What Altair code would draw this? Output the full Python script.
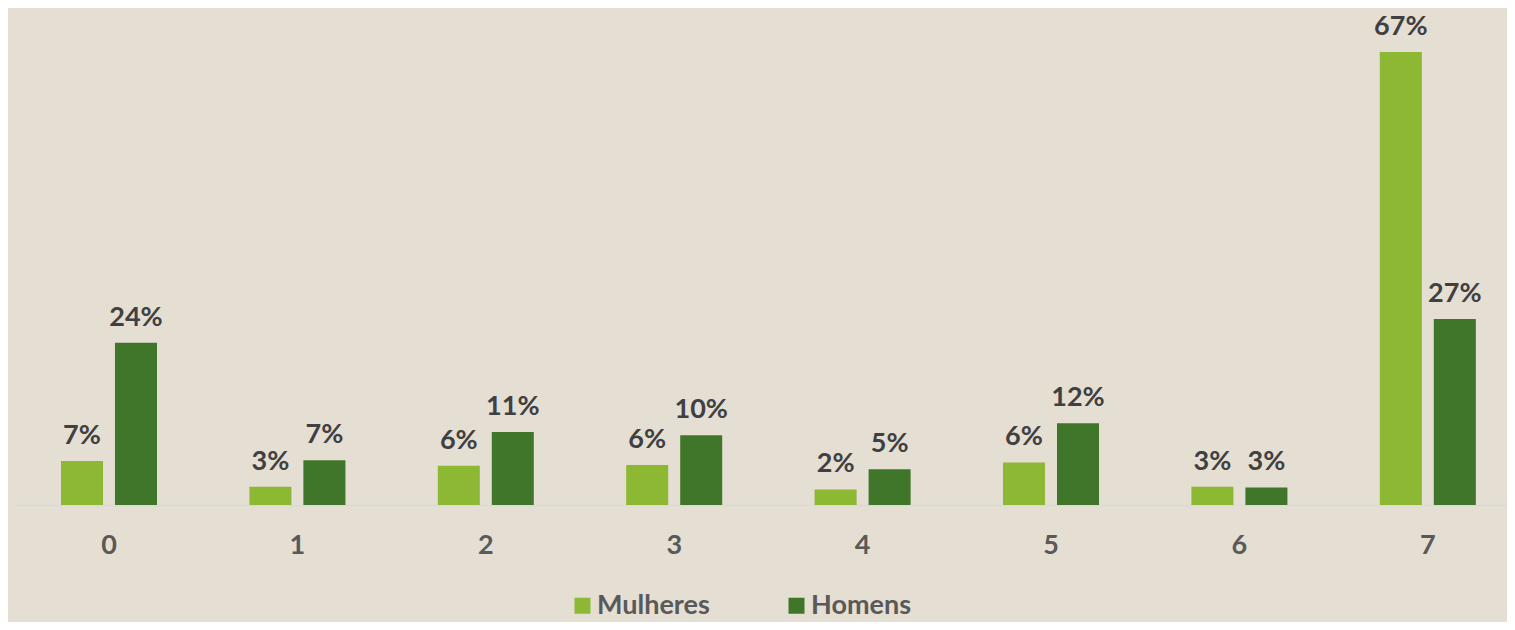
import altair as alt
import pandas as pd

categories = ["0", "1", "2", "3", "4", "5", "6", "7"]
series = ["Mulheres", "Homens"]
mulheres = [6.5, 2.7, 5.8, 5.9, 2.3, 6.3, 2.7, 67.0]
homens = [24.0, 6.6, 10.8, 10.3, 5.3, 12.1, 2.6, 27.5]
mulheres_labels = ["7%", "3%", "6%", "6%", "2%", "6%", "3%", "67%"]
homens_labels = ["24%", "7%", "11%", "10%", "5%", "12%", "3%", "27%"]
colors = ["#8DB833", "#3F7629"]

rows = []
for c, v, l in zip(categories, mulheres, mulheres_labels):
    rows.append({"cat": c, "serie": "Mulheres", "val": v, "label": l})
for c, v, l in zip(categories, homens, homens_labels):
    rows.append({"cat": c, "serie": "Homens", "val": v, "label": l})
df = pd.DataFrame(rows)

FONT = "Lato"

x = alt.X(
    "cat:N",
    sort=categories,
    scale=alt.Scale(paddingInner=0.4904, paddingOuter=0.2048, align=0.596),
    axis=alt.Axis(
        title=None, labelAngle=0, ticks=False, tickSize=0, labelPadding=48,
        labelBaseline="alphabetic", labelFont=FONT, labelFontSize=27,
        labelFontWeight="bold", labelColor="#595959",
        domainColor="#D9D9D9", domainWidth=1.5, grid=False,
    ),
)
xo = alt.XOffset("serie:N", sort=series,
                 scale=alt.Scale(paddingInner=0.222, paddingOuter=0))
y = alt.Y("val:Q", scale=alt.Scale(domain=[0, 73.5], nice=False), axis=None)

bars = alt.Chart(df).mark_bar().encode(
    x=x, xOffset=xo, y=y,
    color=alt.Color(
        "serie:N", sort=series,
        scale=alt.Scale(domain=series, range=colors),
        legend=alt.Legend(
            title=None, orient="none", legendX=554, legendY=584,
            direction="horizontal", symbolType="square", symbolSize=256,
            symbolStrokeWidth=0, symbolOpacity=1, labelFont=FONT,
            labelFontSize=27, labelFontWeight="bold", labelColor="#595959",
            labelOffset=1, columnPadding=73, padding=0,
        ),
    ),
)

texts = alt.Chart(df).mark_text(
    dy=-17, baseline="alphabetic", align="center", font=FONT, fontSize=27,
    fontWeight="bold", color="#404040",
).encode(x=x, xOffset=xo, y=y, text="label:N")

chart = (
    alt.layer(bars, texts)
    .properties(
        width=1492, height=497, background="#E4DED3",
        padding={"left": 7, "top": 0, "right": 0, "bottom": 117},
        autosize=alt.AutoSizeParams(type="none"),
    )
    .configure_view(stroke=None)
)

chart.save("out.html", embed_options={"renderer": "svg", "actions": False})
